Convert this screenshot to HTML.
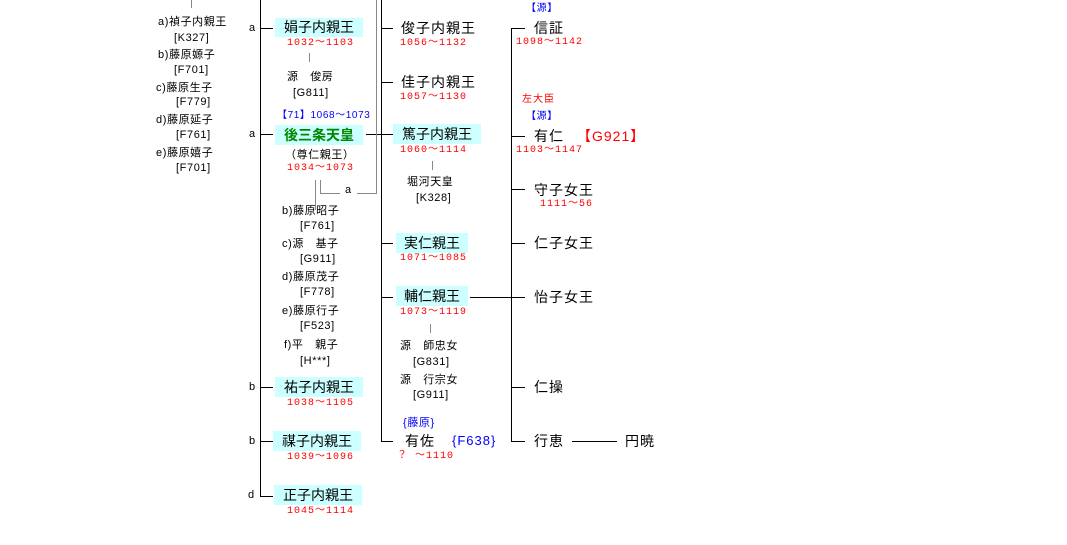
<!DOCTYPE html>
<html><head><meta charset="utf-8"><style>
body{margin:0;width:1067px;height:545px;background:#fff;position:relative;overflow:hidden;font-family:"Liberation Sans","Noto Sans CJK JP",sans-serif;color:#000}
.t{position:absolute;white-space:nowrap;font-size:14px;line-height:18px;letter-spacing:1px}
.s{position:absolute;white-space:nowrap;font-size:11px;line-height:14px;letter-spacing:0.6px}
.d{position:absolute;white-space:nowrap;font-size:10px;line-height:12px;color:#f00;font-family:"Liberation Mono","Noto Sans CJK JP",monospace;letter-spacing:1px}
.b{background:#ccffff;letter-spacing:0}
.l{position:absolute;background:#000}
.g{position:absolute;background:#888}
</style></head><body>
<div class="g" style="left:191px;top:0;width:1px;height:8px"></div>
<div class="l" style="left:260px;top:0;width:1px;height:497px"></div>
<div class="l" style="left:260px;top:28px;width:13px;height:1px"></div>
<div class="l" style="left:260px;top:134px;width:13px;height:1px"></div>
<div class="l" style="left:260px;top:387px;width:13px;height:1px"></div>
<div class="l" style="left:260px;top:441px;width:13px;height:1px"></div>
<div class="l" style="left:260px;top:496px;width:13px;height:1px"></div>
<div class="l" style="left:381px;top:0;width:1px;height:442px"></div>
<div class="l" style="left:381px;top:28px;width:12px;height:1px"></div>
<div class="l" style="left:381px;top:82px;width:12px;height:1px"></div>
<div class="l" style="left:366px;top:134px;width:27px;height:1px"></div>
<div class="l" style="left:381px;top:243px;width:12px;height:1px"></div>
<div class="l" style="left:381px;top:297px;width:12px;height:1px"></div>
<div class="l" style="left:381px;top:441px;width:12px;height:1px"></div>
<div class="l" style="left:470px;top:297px;width:55px;height:1px"></div>
<div class="l" style="left:511px;top:28px;width:1px;height:414px"></div>
<div class="l" style="left:511px;top:28px;width:14px;height:1px"></div>
<div class="l" style="left:511px;top:136px;width:14px;height:1px"></div>
<div class="l" style="left:511px;top:189px;width:14px;height:1px"></div>
<div class="l" style="left:511px;top:243px;width:14px;height:1px"></div>
<div class="l" style="left:511px;top:387px;width:14px;height:1px"></div>
<div class="l" style="left:511px;top:441px;width:14px;height:1px"></div>
<div class="l" style="left:572px;top:441px;width:45px;height:1px"></div>
<div class="g" style="left:376px;top:0;width:1px;height:194px"></div>
<div class="g" style="left:357px;top:193px;width:20px;height:1px"></div>
<div class="g" style="left:315px;top:180px;width:1px;height:30px"></div>
<div class="g" style="left:320px;top:180px;width:1px;height:14px"></div>
<div class="g" style="left:320px;top:193px;width:20px;height:1px"></div>
<div class="g" style="left:309px;top:53px;width:1px;height:9px"></div>
<div class="g" style="left:432px;top:161px;width:1px;height:9px"></div>
<div class="g" style="left:430px;top:324px;width:1px;height:9px"></div>

<div class="s" style="left:158px;top:15px">a)禎子内親王</div>
<div class="s" style="left:174px;top:31px">[K327]</div>
<div class="s" style="left:158px;top:48px">b)藤原嫄子</div>
<div class="s" style="left:174px;top:63px">[F701]</div>
<div class="s" style="left:156px;top:81px">c)藤原生子</div>
<div class="s" style="left:176px;top:95px">[F779]</div>
<div class="s" style="left:156px;top:113px">d)藤原延子</div>
<div class="s" style="left:176px;top:128px">[F761]</div>
<div class="s" style="left:156px;top:146px">e)藤原嬉子</div>
<div class="s" style="left:176px;top:161px">[F701]</div>

<div class="s" style="left:249px;top:21px">a</div>
<div class="t b" style="left:275px;top:18px;width:88px;height:19px;text-align:center">娟子内親王</div>
<div class="d" style="left:287px;top:38px">1032〜1103</div>
<div class="s" style="left:287px;top:70px">源　俊房</div>
<div class="s" style="left:293px;top:86px">[G811]</div>
<div class="s" style="left:277px;top:109px;color:#00f;font-size:10px">【71】1068〜1073</div>
<div class="s" style="left:249px;top:127px">a</div>
<div class="t b" style="left:275px;top:125px;width:88px;height:20px;text-align:center;color:#080;font-weight:bold;line-height:20px">後三条天皇</div>
<div class="s" style="left:285px;top:148px">（尊仁親王）</div>
<div class="d" style="left:287px;top:163px">1034〜1073</div>
<div class="s" style="left:345px;top:183px">a</div>
<div class="s" style="left:282px;top:204px">b)藤原昭子</div>
<div class="s" style="left:300px;top:219px">[F761]</div>
<div class="s" style="left:282px;top:237px">c)源　基子</div>
<div class="s" style="left:300px;top:252px">[G911]</div>
<div class="s" style="left:282px;top:270px">d)藤原茂子</div>
<div class="s" style="left:300px;top:285px">[F778]</div>
<div class="s" style="left:282px;top:304px">e)藤原行子</div>
<div class="s" style="left:300px;top:319px">[F523]</div>
<div class="s" style="left:284px;top:338px">f)平　親子</div>
<div class="s" style="left:300px;top:354px">[H***]</div>
<div class="s" style="left:249px;top:380px">b</div>
<div class="t b" style="left:275px;top:377px;width:88px;height:20px;text-align:center;line-height:20px">祐子内親王</div>
<div class="d" style="left:287px;top:398px">1038〜1105</div>
<div class="s" style="left:249px;top:434px">b</div>
<div class="t b" style="left:273px;top:431px;width:88px;height:20px;text-align:center;line-height:20px">禖子内親王</div>
<div class="d" style="left:287px;top:452px">1039〜1096</div>
<div class="s" style="left:248px;top:488px">d</div>
<div class="t b" style="left:274px;top:485px;width:88px;height:20px;text-align:center;line-height:20px">正子内親王</div>
<div class="d" style="left:287px;top:506px">1045〜1114</div>

<div class="t" style="left:401px;top:19px">俊子内親王</div>
<div class="d" style="left:400px;top:38px">1056〜1132</div>
<div class="t" style="left:401px;top:73px">佳子内親王</div>
<div class="d" style="left:400px;top:92px">1057〜1130</div>
<div class="t b" style="left:393px;top:124px;width:88px;height:20px;text-align:center;line-height:20px">篤子内親王</div>
<div class="d" style="left:400px;top:145px">1060〜1114</div>
<div class="s" style="left:407px;top:175px">堀河天皇</div>
<div class="s" style="left:416px;top:191px">[K328]</div>
<div class="t b" style="left:396px;top:233px;width:72px;height:20px;text-align:center;line-height:20px">実仁親王</div>
<div class="d" style="left:400px;top:253px">1071〜1085</div>
<div class="t b" style="left:396px;top:286px;width:72px;height:20px;text-align:center;line-height:20px">輔仁親王</div>
<div class="d" style="left:400px;top:307px">1073〜1119</div>
<div class="s" style="left:400px;top:339px">源　師忠女</div>
<div class="s" style="left:413px;top:355px">[G831]</div>
<div class="s" style="left:400px;top:373px">源　行宗女</div>
<div class="s" style="left:413px;top:388px">[G911]</div>
<div class="s" style="left:403px;top:416px;color:#00f">{藤原}</div>
<div class="t" style="left:405px;top:432px">有佐</div>
<div class="t" style="left:452px;top:432px;color:#00f;font-size:13px">{F638}</div>
<div class="d" style="left:397px;top:451px">？ 〜1110</div>

<div class="s" style="left:526px;top:2px;color:#00f;font-size:10px">【源】</div>
<div class="t" style="left:534px;top:19px">信証</div>
<div class="d" style="left:516px;top:37px">1098〜1142</div>
<div class="d" style="left:522px;top:95px">左大臣</div>
<div class="s" style="left:526px;top:110px;color:#00f;font-size:10px">【源】</div>
<div class="t" style="left:534px;top:127px">有仁</div>
<div class="t" style="left:577px;top:127px;color:#f00">【G921】</div>
<div class="d" style="left:516px;top:145px">1103〜1147</div>
<div class="t" style="left:534px;top:181px">守子女王</div>
<div class="d" style="left:540px;top:199px">1111〜56</div>
<div class="t" style="left:534px;top:234px">仁子女王</div>
<div class="t" style="left:534px;top:288px">怡子女王</div>
<div class="t" style="left:534px;top:378px">仁操</div>
<div class="t" style="left:534px;top:432px">行恵</div>
<div class="t" style="left:625px;top:432px">円暁</div>
</body></html>
